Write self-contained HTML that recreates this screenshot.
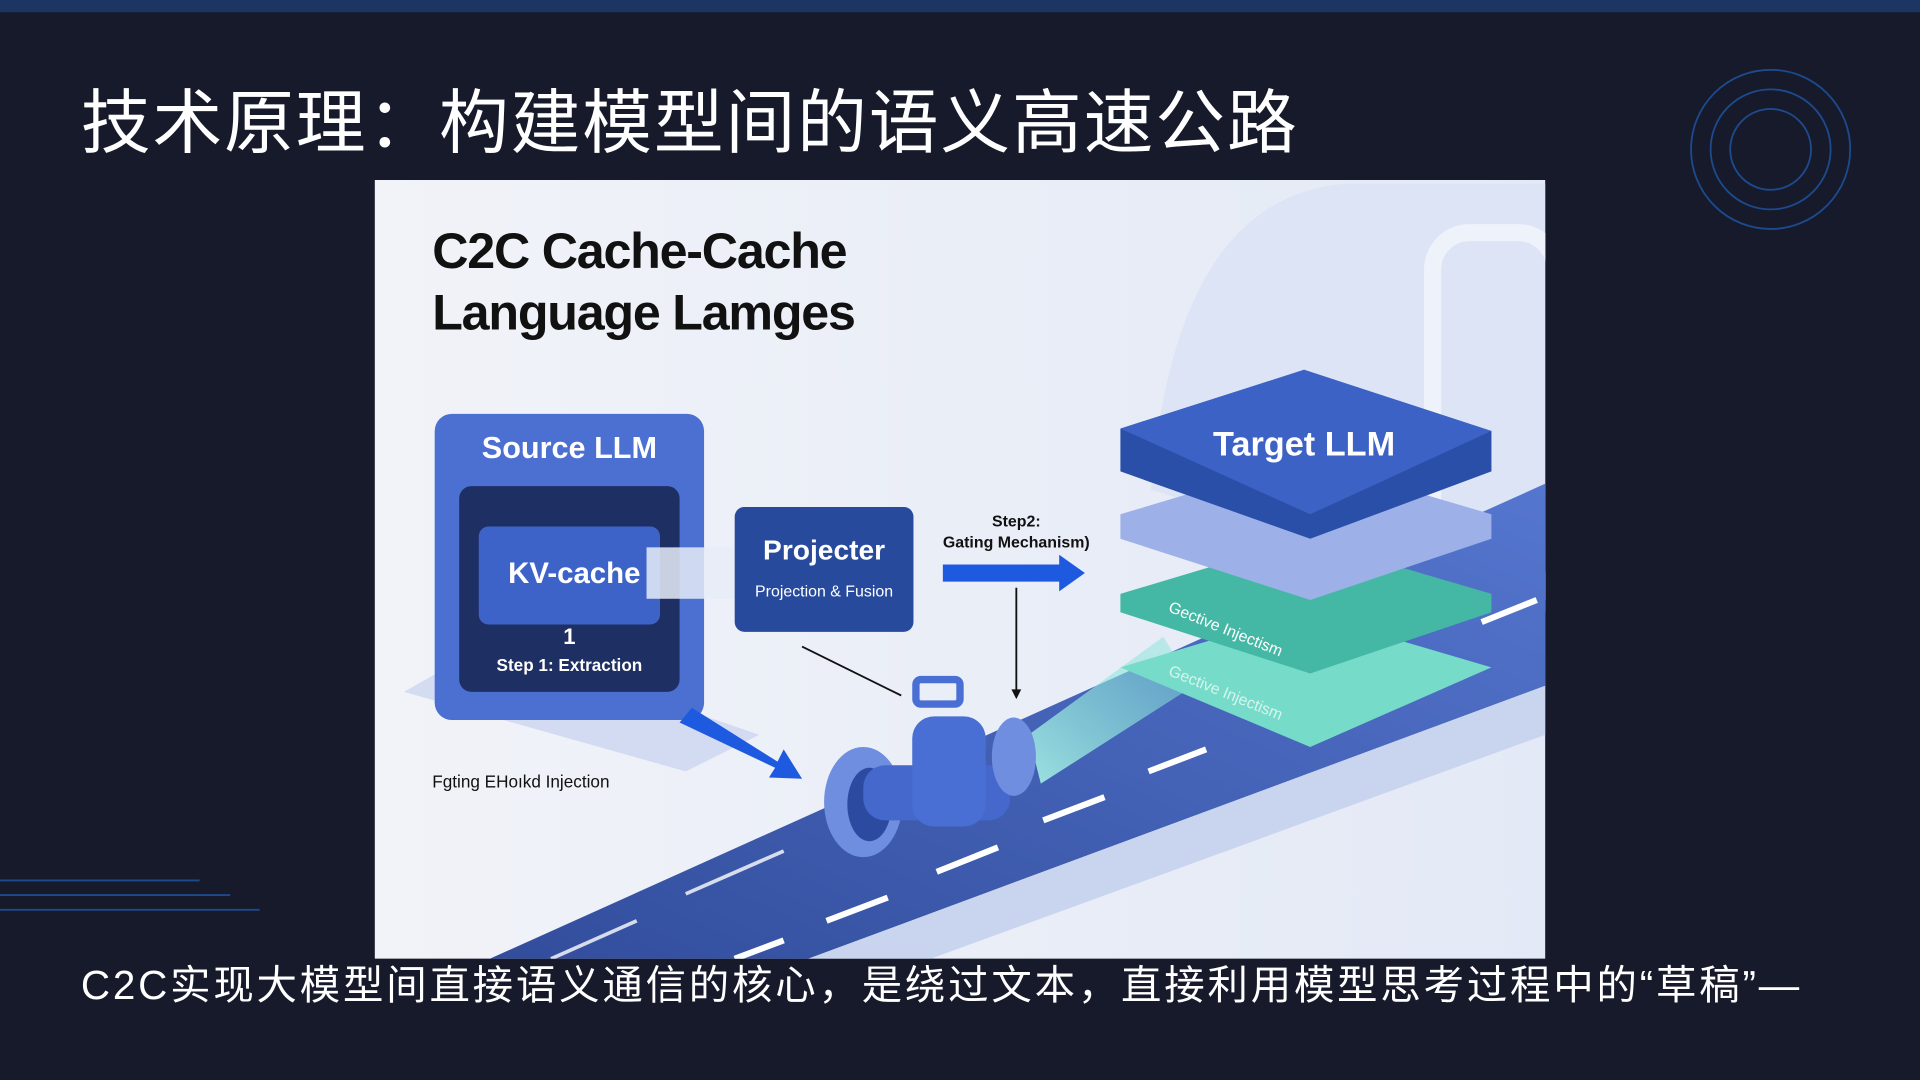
<!DOCTYPE html>
<html><head><meta charset="utf-8"><style>
html,body{margin:0;padding:0;background:#161a2b;overflow:hidden}
#w{width:1568px;height:882px;transform:scale(1.22449);transform-origin:0 0;position:relative;background:#161a2b;font-family:"Liberation Sans","Noto Sans CJK SC",sans-serif}
.t{position:absolute;color:#fff;white-space:nowrap}
</style></head><body><div id="w">
<div style="position:absolute;left:0;top:0;width:1568px;height:10px;background:#1c3563"></div>
<div class="t" style="left:66px;top:55px;font-size:57px;letter-spacing:1.5px">技术原理：构建模型间的语义高速公路</div>
<svg style="position:absolute;left:0;top:0" width="1568" height="882">
<g fill="none" stroke="#1d4a8c" stroke-width="1.5"><circle cx="1446" cy="122" r="65"/><circle cx="1446" cy="122" r="49"/><circle cx="1446" cy="122" r="33"/></g>
<g stroke="#1d4a8c" stroke-width="1.5"><line x1="0" y1="719" x2="163" y2="719"/><line x1="0" y1="731" x2="188" y2="731"/><line x1="0" y1="743" x2="212" y2="743"/></g>
</svg>
<svg style="position:absolute;left:306px;top:147px" width="956" height="636" viewBox="306 147 956 636">
<defs>
<linearGradient id="bg" x1="0" y1="0" x2="1" y2="0"><stop offset="0" stop-color="#f1f3f8"/><stop offset="1" stop-color="#e3e9f6"/></linearGradient>
<linearGradient id="road" x1="0" y1="1" x2="1" y2="0"><stop offset="0" stop-color="#324d9c"/><stop offset="1" stop-color="#5576cf"/></linearGradient>
<linearGradient id="beam" x1="0" y1="1" x2="1" y2="0"><stop offset="0" stop-color="#a6f0e6" stop-opacity=".9"/><stop offset="1" stop-color="#7ee0d4" stop-opacity=".4"/></linearGradient>
</defs>
<rect x="306" y="147" width="956" height="636" fill="url(#bg)"/>
<path d="M940 400 Q960 160 1100 150 L1262 150 L1262 500 Z" fill="#dce4f6"/>
<rect x="1170" y="190" width="100" height="300" rx="30" fill="none" stroke="#eef2fb" stroke-width="14"/>
<polygon points="400,783 1262,395 1262,560 660,783" fill="url(#road)"/>
<polygon points="660,783 1262,560 1262,600 760,783" fill="#c9d4ee"/>
<g stroke="#fff" stroke-width="5"><line x1="600" y1="783" x2="640" y2="768"/><line x1="675" y1="752" x2="725" y2="733"/><line x1="765" y1="712" x2="815" y2="692"/><line x1="852" y1="670" x2="902" y2="651"/><line x1="938" y1="630" x2="985" y2="612"/><line x1="1210" y1="508" x2="1255" y2="490"/></g>
<g stroke="#fff" stroke-width="3" opacity=".8"><line x1="450" y1="783" x2="520" y2="752"/><line x1="560" y1="730" x2="640" y2="695"/></g>
<polygon points="330,565 400,525 620,600 560,630" fill="#c8d2ef" opacity=".7"/>
<rect x="355" y="338" width="220" height="250" rx="14" fill="#4c70d1"/>
<rect x="375" y="397" width="180" height="168" rx="10" fill="#1e2f63"/>
<rect x="391" y="430" width="148" height="80" rx="8" fill="#3e63c8"/>
<rect x="528" y="447" width="72" height="42" fill="#e6ecf8" opacity=".85"/>
<rect x="600" y="414" width="146" height="102" rx="8" fill="#274a9c"/>
<polygon points="770,461 865,461 865,453 886,468 865,483 865,475 770,475" fill="#1e5ae0"/>
<line x1="830" y1="480" x2="830" y2="565" stroke="#111" stroke-width="1.5"/><polygon points="826,563 834,563 830,571" fill="#111"/>
<line x1="655" y1="528" x2="736" y2="568" stroke="#111" stroke-width="1.5"/>
<polygon points="555,590 565,578 635,622 640,612 655,636 628,635 633,627" fill="#1e5ae0"/>
<polygon points="840,600 950,520 975,560 850,640" fill="url(#beam)"/>
<polygon points="915,545 1065,500 1218,545 1070,610" fill="#76dcc9"/>
<polygon points="915,485 1065,440 1218,485 1218,500 1070,550 915,500" fill="#44b8a5"/>
<polygon points="915,420 1065,375 1218,420 1218,440 1070,490 915,440" fill="#9db0e8"/>
<polygon points="915,350 1065,302 1218,352 1218,385 1070,440 915,385" fill="#2a4fa8"/>
<polygon points="915,350 1065,302 1218,352 1070,420" fill="#3c62c6"/>
<ellipse cx="705" cy="655" rx="32" ry="45" fill="#6f8ee0"/><ellipse cx="710" cy="657" rx="18" ry="30" fill="#2b4aa0"/>
<rect x="705" y="625" width="120" height="45" rx="18" fill="#4468cc"/>
<rect x="745" y="585" width="60" height="90" rx="18" fill="#4a6fd4"/>
<rect x="748" y="555" width="36" height="20" rx="4" fill="none" stroke="#4a6fd4" stroke-width="6"/>
<ellipse cx="828" cy="618" rx="18" ry="32" fill="#6f8ee0"/>
</svg>
<div class="t" style="left:353px;top:180px;font-size:41px;font-weight:bold;color:#111;letter-spacing:-1px;line-height:50px">C2C Cache-Cache<br>Language Lamges</div>
<div class="t" style="left:355px;top:352px;width:220px;text-align:center;font-size:25px;font-weight:bold">Source LLM</div>
<div class="t" style="left:391px;top:455px;width:156px;text-align:center;font-size:24px;font-weight:bold">KV-cache</div>
<div class="t" style="left:375px;top:510px;width:180px;text-align:center;font-size:18px;font-weight:bold">1</div>
<div class="t" style="left:375px;top:535px;width:180px;text-align:center;font-size:14px;font-weight:bold">Step 1: Extraction</div>
<div class="t" style="left:600px;top:436px;width:146px;text-align:center;font-size:23px;font-weight:bold">Projecter</div>
<div class="t" style="left:600px;top:475px;width:146px;text-align:center;font-size:13px">Projection &amp; Fusion</div>
<div class="t" style="left:760px;top:417px;width:140px;text-align:center;font-size:13px;color:#111;font-weight:bold;line-height:17px">Step2:<br>Gating Mechanism)</div>
<div class="t" style="left:915px;top:347px;width:300px;text-align:center;font-size:28px;font-weight:bold">Target LLM</div>
<div class="t" style="left:958px;top:488px;font-size:13px;transform:rotate(22deg);transform-origin:0 0">Gective Injectism</div>
<div class="t" style="left:958px;top:540px;font-size:13px;transform:rotate(22deg);transform-origin:0 0;opacity:.7">Gective Injectism</div>
<div class="t" style="left:353px;top:630px;font-size:14px;color:#111">Fgting EHoıkd Injection</div>
<div class="t" style="left:66px;top:778px;font-size:33px;letter-spacing:2.3px">C2C实现大模型间直接语义通信的核心，是绕过文本，直接利用模型思考过程中的“草稿”—</div>
</div></body></html>
